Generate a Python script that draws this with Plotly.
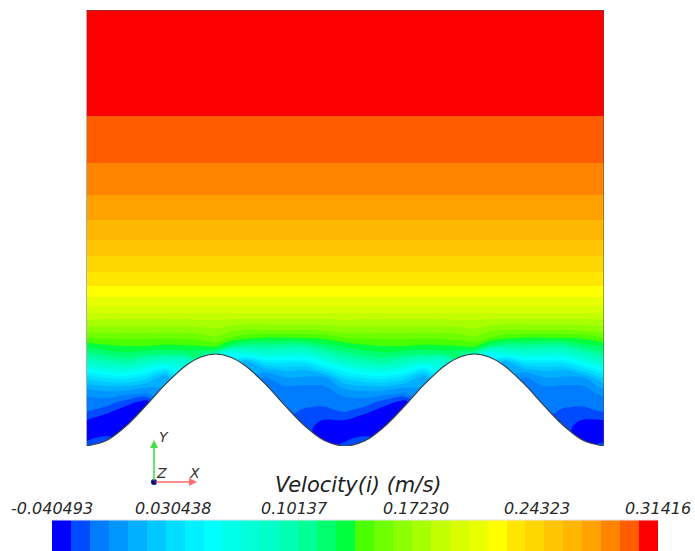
import plotly.graph_objects as go

# ---------------------------------------------------------------------------
# Colour range of the velocity field and its 32 discrete bands
# ---------------------------------------------------------------------------
VMIN, VMAX = -0.040493, 0.31416
N_BANDS = 32
STEP = (VMAX - VMIN) / N_BANDS

band_colors = [
    "rgb(0,0,255)", "rgb(0,75,255)", "rgb(0,125,255)", "rgb(0,150,255)",
    "rgb(0,175,255)", "rgb(0,200,255)", "rgb(0,222,255)", "rgb(0,240,255)",
    "rgb(0,255,255)", "rgb(0,255,235)", "rgb(0,255,215)", "rgb(0,255,200)",
    "rgb(0,255,180)", "rgb(0,255,150)", "rgb(0,255,110)", "rgb(0,255,60)",
    "rgb(75,255,0)", "rgb(110,255,0)", "rgb(140,255,0)", "rgb(168,255,0)",
    "rgb(195,255,0)", "rgb(215,255,0)", "rgb(232,255,0)", "rgb(255,255,0)",
    "rgb(255,230,0)", "rgb(255,215,0)", "rgb(255,197,0)", "rgb(255,182,0)",
    "rgb(255,162,0)", "rgb(255,132,0)", "rgb(255,92,0)", "rgb(252,0,0)",
]

tick_vals = [-0.040493, 0.030438, 0.10137, 0.17230, 0.24323, 0.31416]
tick_text = ["-0.040493", "0.030438", "0.10137", "0.17230", "0.24323", "0.31416"]

# ---------------------------------------------------------------------------
# Geometry (mm): two wavelengths of a wavy bed under a 436 mm deep channel
# ---------------------------------------------------------------------------
WAVELENGTH = 259.0
N_WAVES = 2
DEPTH = 436.0

# bed height over one wavelength, trough -> crest -> trough
wall_x = [0, 20, 40, 60, 80, 100, 115, 129.5, 144, 159, 179, 199, 219, 239, 259]
wall_h = [0, 5.2, 20, 40.4, 62.3, 80.5, 89, 92, 89, 80.5, 62.3, 40.4, 20, 5.2, 0]

# ---------------------------------------------------------------------------
# Streamwise velocity u (m/s)
# near-bed table: one row per height, one value per station (N = inside bed)
# ---------------------------------------------------------------------------
stations = [0, 20, 40, 60, 80, 100, 115, 129.5, 144, 159, 179, 199, 219, 239]
near_h = [0, 6, 12, 18, 24, 30, 36, 44, 52, 60, 68, 76, 84, 92, 100, 108, 116, 126]
N = None
near_u = [
    [-0.0250, N, N, N, N, N, N, N, N, N, N, N, N, N],
    [-0.0316, -0.0183, N, N, N, N, N, N, N, N, N, N, N, -0.0316],
    [-0.0372, -0.0361, N, N, N, N, N, N, N, N, N, N, N, -0.0361],
    [-0.0372, -0.0383, N, N, N, N, N, N, N, N, N, N, N, -0.0361],
    [-0.0327, -0.0372, -0.0350, N, N, N, N, N, N, N, N, N, -0.0250, -0.0316],
    [-0.0228, -0.0327, -0.0383, N, N, N, N, N, N, N, N, N, -0.0239, -0.0261],
    [-0.0161, -0.0228, -0.0361, N, N, N, N, N, N, N, N, N, -0.0194, -0.0205],
    [-0.0117, -0.0128, -0.0228, -0.0350, N, N, N, N, N, N, N, -0.0150, -0.0150, -0.0150],
    [-0.0050, -0.0017, -0.0050, -0.0095, N, N, N, N, N, N, N, -0.0128, -0.0128, -0.0117],
    [0.0094, 0.0149, 0.0149, 0.0072, N, N, N, N, N, N, N, -0.0072, -0.0084, -0.0072],
    [0.0282, 0.0371, 0.0404, 0.0293, 0.0038, N, N, N, N, N, -0.0095, 0.0027, 0.0016, 0.0016],
    [0.0537, 0.0659, 0.0703, 0.0570, 0.0371, N, N, N, N, N, 0.0094, 0.0171, 0.0149, 0.0315],
    [0.0870, 0.0969, 0.1025, 0.0892, 0.0770, 0.0759, N, N, N, 0.0094, 0.0371, 0.0393, 0.0393, 0.0626],
    [0.1102, 0.1180, 0.1224, 0.1169, 0.1147, 0.1180, 0.1147, 0.1036, 0.0482, 0.0648, 0.0759, 0.0737, 0.0737, 0.0947],
    [0.1280, 0.1346, 0.1368, 0.1368, 0.1346, 0.1357, 0.1368, 0.1402, 0.1202, 0.1091, 0.1091, 0.1058, 0.1069, 0.1213],
    [0.1479, 0.1490, 0.1501, 0.1501, 0.1490, 0.1501, 0.1524, 0.1568, 0.1479, 0.1402, 0.1357, 0.1357, 0.1368, 0.1391],
    [0.1645, 0.1645, 0.1645, 0.1645, 0.1645, 0.1645, 0.1657, 0.1679, 0.1623, 0.1590, 0.1590, 0.1590, 0.1590, 0.1612],
    [0.1812, 0.1801, 0.1801, 0.1801, 0.1801, 0.1801, 0.1812, 0.1812, 0.1801, 0.1790, 0.1790, 0.1790, 0.1790, 0.1790],
]

# outer flow: horizontally uniform profile
outer_h = [133, 140, 149, 160, 174, 190, 206, 226, 251, 283, 330, 436]
outer_u = [0.1922, 0.2033, 0.2144, 0.2255, 0.2366, 0.2477, 0.2588, 0.2698,
           0.2809, 0.2920, 0.3031, 0.3138]

# inside the solid bed, carry each station's lowest fluid value downwards so
# the contour filler has a value there (the bed is painted over afterwards)
for j in range(len(stations)):
    first = next(i for i, row in enumerate(near_u) if row[j] is not None)
    for i in range(first):
        near_u[i][j] = near_u[first][j]

# ---------------------------------------------------------------------------
# Assemble the periodic grid over both wavelengths
# ---------------------------------------------------------------------------
grid_x = [p * WAVELENGTH + s for p in range(N_WAVES) for s in stations] + [N_WAVES * WAVELENGTH]
grid_y = near_h + outer_h
grid_z = [row * N_WAVES + [row[0]] for row in near_u]
grid_z += [[u] * len(grid_x) for u in outer_u]

bed_x = [p * WAVELENGTH + s for p in range(N_WAVES) for s in wall_x[:-1]] + [N_WAVES * WAVELENGTH]
bed_y = wall_h[:-1] * N_WAVES + [wall_h[-1]]

# contour fill colours: band k is evaluated at (k + 1) / (N_BANDS + 1)
field_scale = [[0.0, band_colors[0]]]
field_scale += [[(k + 1) / (N_BANDS + 1), c] for k, c in enumerate(band_colors)]
field_scale += [[1.0, band_colors[-1]]]

# colour bar: one cell per band
bar_centers = [VMIN + (k + 0.5) * STEP for k in range(N_BANDS)]
bar_scale = [[0.0, band_colors[0]]]
bar_scale += [[(k + 0.5) / N_BANDS, c] for k, c in enumerate(band_colors)]
bar_scale += [[1.0, band_colors[-1]]]

W, H = 695, 551


def px(x):
    return x / W


def py(y):
    return (H - y) / H


fig = go.Figure()

fig.add_trace(go.Contour(
    x=grid_x, y=grid_y, z=grid_z,
    autocontour=False,
    contours=dict(start=VMIN, end=VMIN + N_BANDS * STEP, size=STEP,
                  coloring="fill", showlines=False),
    colorscale=field_scale, showscale=False,
    line=dict(width=0), hoverinfo="skip",
    xaxis="x", yaxis="y",
))

# bed (solid) and its outline
fig.add_trace(go.Scatter(
    x=bed_x, y=bed_y, mode="lines", fill="tozeroy", fillcolor="white",
    line=dict(color="rgb(55,64,72)", width=1.2, shape="spline", smoothing=1.0),
    hoverinfo="skip", showlegend=False, xaxis="x", yaxis="y",
))

# colour bar
fig.add_trace(go.Heatmap(
    x=bar_centers, y=[0.5], z=[bar_centers],
    zmin=VMIN, zmax=VMAX, colorscale=bar_scale, showscale=False,
    hoverinfo="skip", xaxis="x2", yaxis="y2",
))

x0, x1 = 0.0, N_WAVES * WAVELENGTH
shapes = [
    dict(type="line", xref="x", yref="y", x0=x0, x1=x0, y0=0, y1=DEPTH,
         line=dict(color="rgb(175,175,175)", width=2)),
    dict(type="line", xref="x", yref="y", x0=x0, x1=x1, y0=DEPTH, y1=DEPTH,
         line=dict(color="rgb(80,80,80)", width=1)),
    dict(type="line", xref="x", yref="y", x0=x1, x1=x1, y0=0, y1=DEPTH,
         line=dict(color="rgb(80,80,80)", width=1)),
    # thin light rim along the top of the colour bar
    dict(type="line", xref="x2", yref="paper", x0=VMIN, x1=VMAX,
         y0=py(520), y1=py(520), line=dict(color="rgb(235,225,240)", width=1)),
    # triad origin
    dict(type="circle", xref="paper", yref="paper",
         x0=px(151), x1=px(157), y0=py(485), y1=py(479),
         fillcolor="rgb(10,10,120)", line=dict(width=0)),
]

label_font = dict(family="DejaVu Sans", size=16, color="rgb(40,40,40)", style="italic")
annotations = []
for v, t in zip(tick_vals, tick_text):
    annotations.append(dict(x=v, y=py(508), xref="x2", yref="paper", text=t,
                            showarrow=False, xanchor="center", yanchor="middle",
                            font=label_font))
annotations.append(dict(x=px(358), y=py(485), xref="paper", yref="paper",
                        text="Velocity(i) (m/s)", showarrow=False,
                        xanchor="center", yanchor="middle",
                        font=dict(family="DejaVu Sans", size=21,
                                  color="rgb(30,30,30)", style="italic")))
# triad arrows
annotations.append(dict(x=px(197), y=py(482), xref="paper", yref="paper",
                        ax=-43, ay=0, text="", showarrow=True, arrowhead=2,
                        arrowsize=1, arrowwidth=1.6, arrowcolor="rgb(255,110,110)"))
annotations.append(dict(x=px(154), y=py(440), xref="paper", yref="paper",
                        ax=0, ay=42, text="", showarrow=True, arrowhead=2,
                        arrowsize=1, arrowwidth=1.6, arrowcolor="rgb(70,220,70)"))
triad_font = dict(family="DejaVu Sans", size=14, color="rgb(50,50,50)", style="italic")
for txt, tx, ty in [("Y", 164, 437), ("Z", 161, 473), ("X", 195, 473)]:
    annotations.append(dict(x=px(tx), y=py(ty), xref="paper", yref="paper",
                            text=txt, showarrow=False, xanchor="center",
                            yanchor="middle", font=triad_font))

fig.update_layout(
    width=W, height=H,
    margin=dict(l=0, r=0, t=0, b=0),
    paper_bgcolor="white", plot_bgcolor="white",
    showlegend=False,
    xaxis=dict(domain=[px(86), px(604)], range=[x0, x1], visible=False),
    yaxis=dict(domain=[py(446), py(10)], range=[0, DEPTH], visible=False),
    xaxis2=dict(domain=[px(52), px(658)], range=[VMIN, VMAX], visible=False, anchor="y2"),
    yaxis2=dict(domain=[0, py(520)], range=[0, 1], visible=False, anchor="x2"),
    shapes=shapes,
    annotations=annotations,
)

fig.write_html("out.html")
